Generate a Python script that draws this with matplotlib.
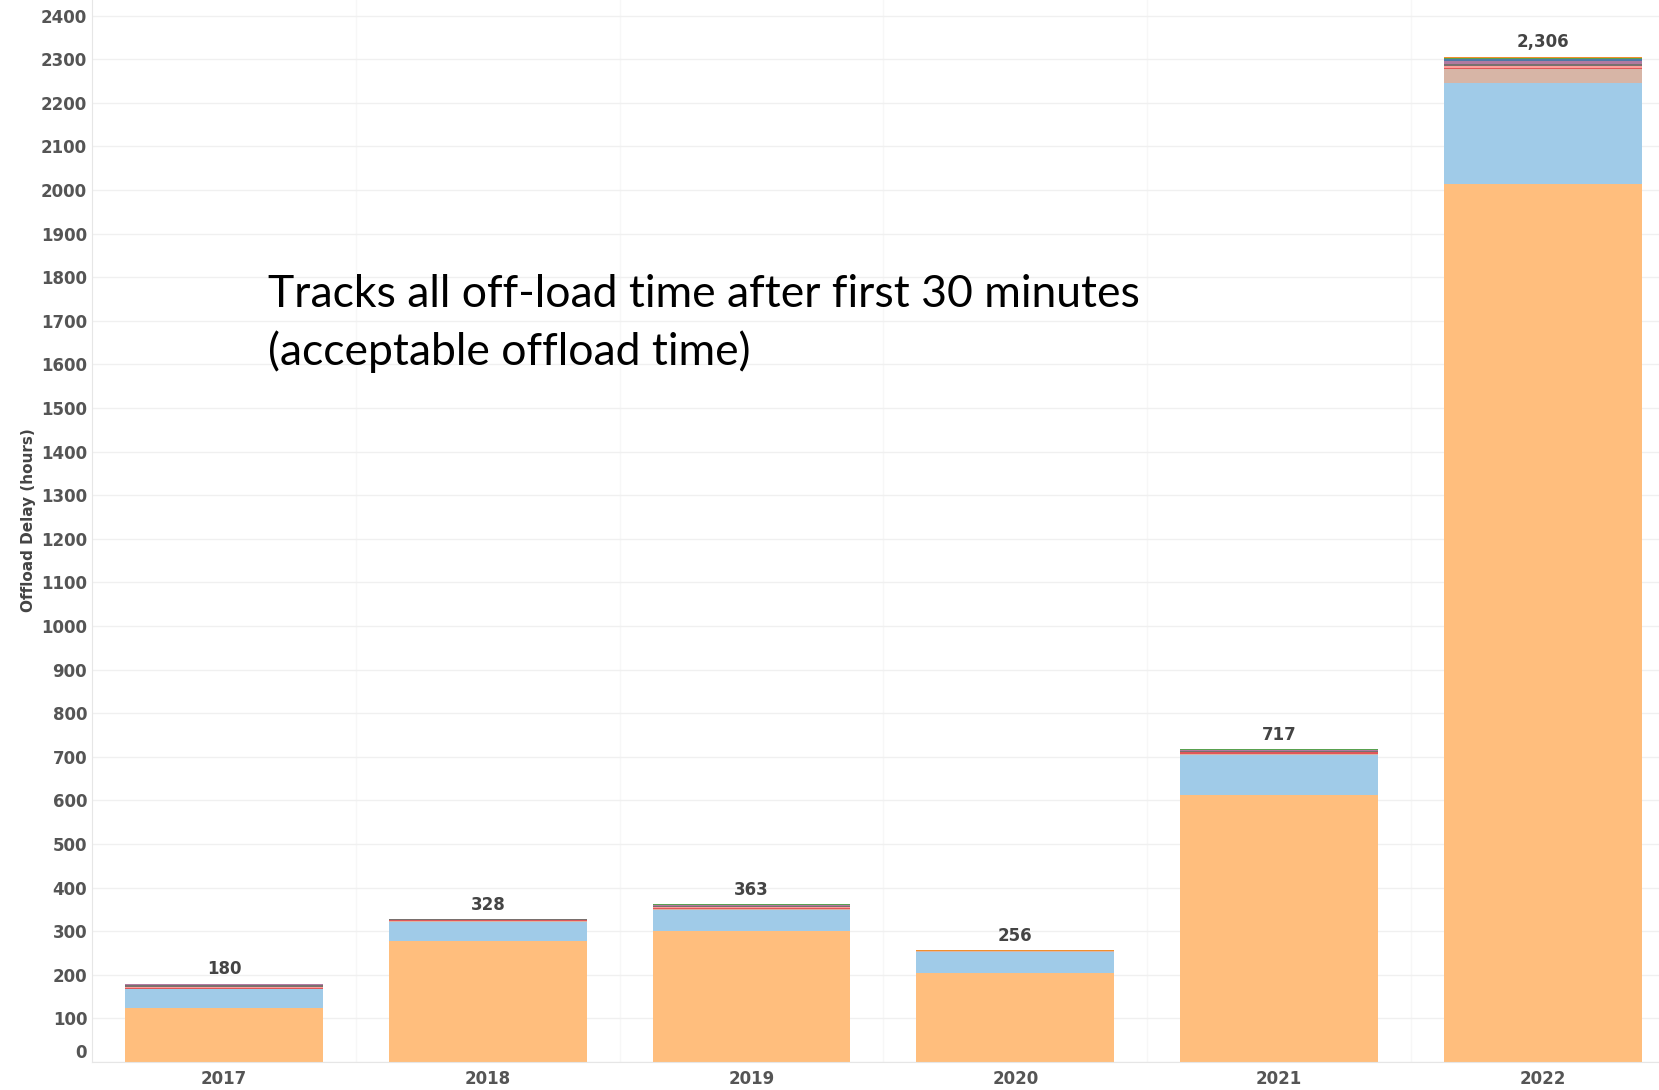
import matplotlib.pyplot as plt
import matplotlib.transforms as mtransforms
import numpy as np

# offload delay (hours) per year, stacked by category
years = ["2017", "2018", "2019", "2020", "2021", "2022"]
totals = [180, 328, 363, 256, 717, 2306]

s_orange = [124, 278, 300, 205, 613, 2013]
s_blue = [43, 44, 48, 48, 91, 232]
s_tan = [0, 2, 2, 1, 3, 32]
s_red = [3, 1, 4, 0, 3, 4]
s_pink = [2, 0, 2, 0, 2, 3]
s_gray = [4, 2, 2, 1, 2, 6]
s_purple = [2, 0, 1, 0, 1, 6]
s_dkblue = [1, 0, 1, 0, 1, 5]
s_green = [0, 0, 2, 0, 1, 3]
s_orange2 = [1, 1, 1, 1, 0, 2]

series = [s_orange, s_blue, s_tan, s_red, s_pink, s_gray, s_purple, s_dkblue, s_green, s_orange2]
colors = ["#FFBE7D", "#A0CBE8", "#D7B5A6", "#E15759", "#FF9D9A",
          "#79706E", "#B07AA1", "#4E79A7", "#59A14F", "#F28E2B"]

fig = plt.figure(figsize=(16.59, 10.90), dpi=100)
ax = fig.add_axes([0.0555, 0.0257, 0.9445, 0.9743])

x = np.arange(len(years))
bottom = np.zeros(len(years))
for vals, c in zip(series, colors):
    ax.bar(x, vals, width=0.75, bottom=bottom, color=c, linewidth=0, zorder=2)
    bottom += np.array(vals)

for xi, t in zip(x, totals):
    ax.text(xi, t + 12, f"{t:,}", ha="center", va="bottom", fontsize=12,
            fontweight="bold", color="#444444")

ax.set_xlim(-0.5, 5.44)
ax.set_ylim(0, 2436)
ax.set_yticks(np.arange(0, 2401, 100))
ax.set_yticklabels([str(v) for v in range(0, 2401, 100)])
ax.set_xticks(x)
ax.set_xticklabels(years)

ax.tick_params(axis="both", length=0, labelsize=12, labelcolor="#555555")
ax.tick_params(axis="y", pad=3.5)
ax.tick_params(axis="x", pad=6)
for lab in ax.get_yticklabels() + ax.get_xticklabels():
    lab.set_fontweight("bold")

# raise the 0 label like the original
zero = ax.get_yticklabels()[0]
zero.set_transform(zero.get_transform() + mtransforms.ScaledTranslation(0, 11 / 100, fig.dpi_scale_trans))

ax.grid(axis="y", color="#f0f0f0", linewidth=1, zorder=0)
for b in np.arange(0.5, 5.5, 1):
    ax.axvline(b, color="#f7f7f7", linewidth=1, zorder=0)

for s in ["top", "right"]:
    ax.spines[s].set_visible(False)
ax.spines["left"].set_color("#e6e6e6")
ax.spines["bottom"].set_color("#e6e6e6")

ax.set_ylabel("Offload Delay (hours)", fontsize=11, fontweight="bold", color="#444444")
ax.yaxis.set_label_coords(-0.036, 0.51)

ax.text(0.1614, 0.703, "Tracks all off-load time after first 30 minutes\n(acceptable offload time)",
        transform=fig.transFigure, fontsize=32, family="Lato", color="black",
        ha="left", va="center", linespacing=1.45)

plt.savefig("out.png", dpi=100)
